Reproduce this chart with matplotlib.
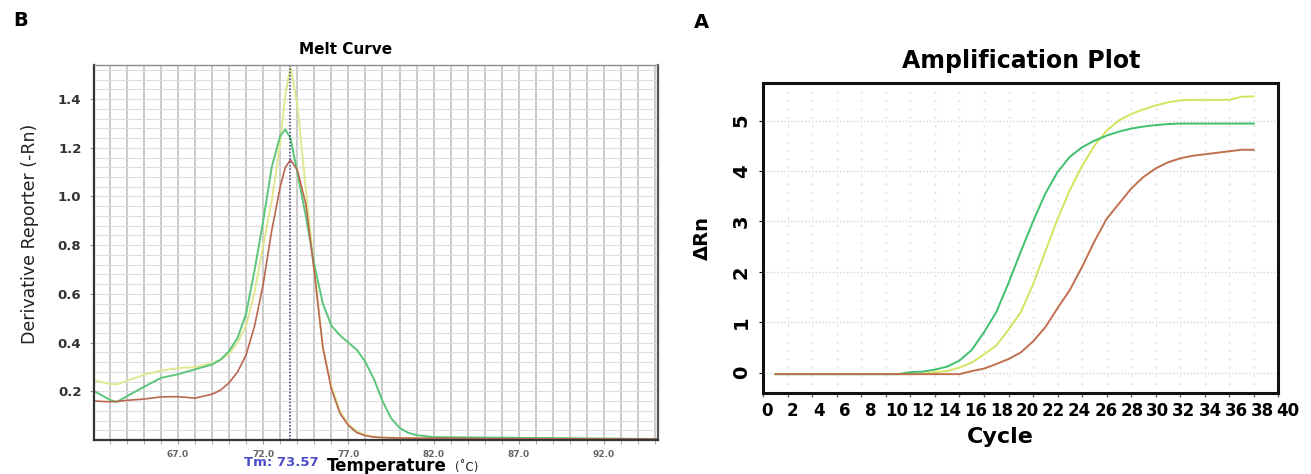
import matplotlib
matplotlib.use("Agg")
import matplotlib.pyplot as plt
from matplotlib.ticker import MultipleLocator

# melt curve data (derivative reporter vs temperature)
melt_temp = [62.1, 63.0, 63.4, 64.0, 65.0, 66.0, 67.0, 68.0, 69.0, 69.5, 70.0, 70.5, 71.0, 71.5,
             72.0, 72.5, 73.0, 73.3, 73.6, 74.0, 74.5, 75.0, 75.5, 76.0, 76.5, 77.0, 77.5, 78.0,
             78.5, 79.0, 79.5, 80.0, 80.5, 81.0, 82.0, 85.0, 90.0, 95.2]
melt_yellow = [0.245, 0.23, 0.228, 0.243, 0.268, 0.285, 0.295, 0.300, 0.315, 0.33, 0.355, 0.40, 0.47, 0.61,
               0.80, 0.98, 1.22, 1.42, 1.53, 1.38, 1.03, 0.70, 0.38, 0.22, 0.12, 0.065, 0.035, 0.02,
               0.013, 0.01, 0.009, 0.008, 0.008, 0.007, 0.007, 0.006, 0.005, 0.004]
melt_green = [0.20, 0.165, 0.156, 0.18, 0.218, 0.255, 0.27, 0.29, 0.31, 0.33, 0.365, 0.42, 0.52, 0.70,
              0.90, 1.12, 1.25, 1.275, 1.24, 1.10, 0.92, 0.72, 0.56, 0.47, 0.43, 0.40, 0.37, 0.32,
              0.25, 0.16, 0.09, 0.05, 0.03, 0.02, 0.012, 0.01, 0.007, 0.004]
melt_red = [0.16, 0.157, 0.158, 0.163, 0.168, 0.177, 0.178, 0.172, 0.188, 0.205, 0.235, 0.28, 0.35, 0.47,
            0.64, 0.86, 1.04, 1.12, 1.15, 1.11, 0.97, 0.69, 0.38, 0.21, 0.11, 0.06, 0.03, 0.018,
            0.012, 0.01, 0.009, 0.008, 0.008, 0.007, 0.007, 0.006, 0.005, 0.004]
tm = 73.57
melt_xticks = [67.0, 72.0, 77.0, 82.0, 87.0, 92.0]
melt_yticks = [0.2, 0.4, 0.6, 0.8, 1.0, 1.2, 1.4]

# amplification data (delta Rn vs cycle)
cycles = list(range(1, 41))
amp_green = [-0.03] * 11 + [0.01, 0.02, 0.06, 0.12, 0.24, 0.45, 0.80, 1.20, 1.78, 2.40, 3.00, 3.55,
                            3.98, 4.28, 4.47, 4.60, 4.70, 4.78, 4.84, 4.88, 4.91, 4.93, 4.94, 4.94,
                            4.94, 4.94, 4.94, 4.94, 4.94]
amp_yellow = [-0.03] * 13 + [0.01, 0.03, 0.10, 0.20, 0.36, 0.54, 0.85, 1.20, 1.75, 2.40, 3.05, 3.62,
                             4.10, 4.50, 4.80, 5.00, 5.13, 5.22, 5.30, 5.36, 5.40, 5.41, 5.41, 5.41,
                             5.41, 5.47, 5.48]
amp_brown = [-0.03] * 16 + [0.03, 0.08, 0.17, 0.27, 0.40, 0.62, 0.90, 1.28, 1.64, 2.10, 2.60, 3.05,
                            3.35, 3.65, 3.88, 4.05, 4.17, 4.25, 4.30, 4.33, 4.36, 4.39, 4.42, 4.42]
cycle_labels = list(range(0, 41, 2))

W, H = 1311, 474
fig = plt.figure(figsize=(W / 100, H / 100), dpi=100)

def box(l, t, r, b):
    return [l / W, 1 - b / H, (r - l) / W, (b - t) / H]

# ---------------- melt curve (B) ----------------
ax1 = fig.add_axes(box(94, 65, 658, 440))
ax1.plot(melt_temp, melt_yellow, color="#dfe88e", lw=1.4)
ax1.plot(melt_temp, melt_green, color="#5cc67c", lw=1.4)
ax1.plot(melt_temp, melt_red, color="#b9674f", lw=1.2)
ax1.axvline(tm, color="#4a4a78", ls=(0, (1, 1)), lw=1.2)
ax1.set_xlim(62.07, 95.17)
ax1.set_ylim(0, 1.54)
ax1.set_xticks(melt_xticks)
ax1.set_xticklabels([f"{v:.1f}" for v in melt_xticks], fontsize=6.5, color="#666666", fontweight="bold")
ax1.set_yticks(melt_yticks)
ax1.set_yticklabels([f"{v:.1f}" for v in melt_yticks], fontsize=9.5, fontweight="bold", color="#333333")
ax1.xaxis.set_minor_locator(MultipleLocator(1))
ax1.yaxis.set_minor_locator(MultipleLocator(0.04))
ax1.grid(axis="x", which="both", color="#c6c6c6", lw=1.3)
ax1.grid(axis="y", which="both", color="#dedede", lw=0.8)
ax1.set_axisbelow(True)
ax1.tick_params(axis="x", which="both", length=3, color="#999999", pad=4)
ax1.tick_params(axis="y", which="major", length=3, color="#999999", pad=6)
ax1.tick_params(axis="y", which="minor", length=0)
for s, c, w in [("left", "#333333", 1.6), ("bottom", "#333333", 1.6), ("right", "#555555", 1.6), ("top", "#8a8a8a", 1.0)]:
    ax1.spines[s].set_color(c)
    ax1.spines[s].set_linewidth(w)
fig.text(30 / W, 1 - 234 / H, "Derivative Reporter (-Rn)", fontsize=12.5, color="#222222",
         rotation=90, ha="center", va="center")
fig.text(346 / W, 1 - 49 / H, "Melt Curve", fontsize=11, fontweight="bold", ha="center", va="center")
fig.text(281 / W, 1 - 463 / H, "Tm: 73.57", fontsize=9.5, fontweight="bold", color="#4b4bcc",
         ha="center", va="center")
fig.text(327 / W, 1 - 466 / H, "Temperature", fontsize=12, fontweight="bold", ha="left", va="center")
fig.text(455 / W, 1 - 467 / H, "(˚C)", fontsize=8.5, ha="left", va="center", color="#222222")
fig.text(21 / W, 1 - 21 / H, "B", fontsize=14, fontweight="bold", ha="center", va="center")

# ---------------- amplification plot (A) ----------------
ax2 = fig.add_axes(box(763.3, 82.7, 1278.3, 393.3))
ax2.plot(cycles, amp_yellow, color="#d5e35e", lw=1.4)
ax2.plot(cycles, amp_green, color="#3fc06c", lw=1.4)
ax2.plot(cycles, amp_brown, color="#c0704e", lw=1.4)
ax2.set_xlim(0, 42)
ax2.set_ylim(-0.41, 5.75)
ax2.set_xticks(range(0, 43, 2))
ax2.set_xticklabels([])
ax2.set_yticks(range(0, 6))
ax2.set_yticklabels([str(v) for v in range(0, 6)], fontsize=14, fontweight="bold", rotation=90, va="center")
ax2.grid(axis="x", color="#d2d2d2", ls=(0, (1, 5)), lw=1.0)
ax2.grid(axis="y", color="#d2d2d2", ls=(0, (1, 1.5)), lw=1.0)
ax2.set_axisbelow(True)
ax2.tick_params(axis="x", length=3, width=1, color="#666666")
ax2.tick_params(axis="y", length=3, pad=6)
for s in ax2.spines.values():
    s.set_linewidth(2.2)
    s.set_color("#111111")
ax2.set_ylabel("ΔRn", fontsize=14, fontweight="bold", labelpad=14)

# tick labels of the original figure sit on their own spacing, offset from the tick marks
axl = fig.add_axes(box(766.7, 392, 1288.3, 393.3))
axl.set_xlim(0, 40)
axl.set_xticks(cycle_labels)
axl.set_xticklabels([str(v) for v in cycle_labels], fontsize=12, fontweight="bold")
axl.tick_params(axis="x", length=0, pad=6)
axl.set_yticks([])
axl.patch.set_visible(False)
for s in axl.spines.values():
    s.set_visible(False)

fig.text(1021 / W, 1 - 61 / H, "Amplification Plot", fontsize=17, fontweight="bold", ha="center", va="center")
fig.text(1000 / W, 1 - 437 / H, "Cycle", fontsize=16, fontweight="bold", ha="center", va="center")
fig.text(701 / W, 1 - 22 / H, "A", fontsize=14, fontweight="bold", ha="center", va="center")

fig.savefig("out.png", dpi=100)
